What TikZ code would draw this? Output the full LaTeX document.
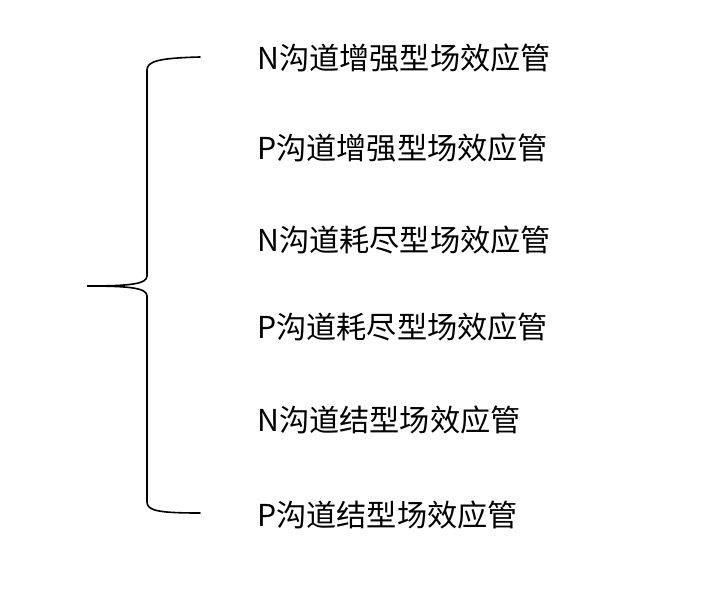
\documentclass[tikz,border=0pt]{standalone}
\usepackage{fontspec}
\newfontfamily\cjk{Noto Sans CJK SC}
\begin{document}
\begin{tikzpicture}[x=1pt,y=-1pt,
  item/.style={anchor=west,inner sep=0pt,font=\cjk\fontsize{30.2}{32}\selectfont},
  bracestyle/.style={line width=1.6pt,line cap=round}]
\useasboundingbox (0,0) rectangle (711,597);
\node[item] (t1) at (257,58) {N沟道增强型场效应管};
\node[item] (t2) at (257,148) {P沟道增强型场效应管};
\node[item] (t3) at (257,240) {N沟道耗尽型场效应管};
\node[item] (t4) at (257,327) {P沟道耗尽型场效应管};
\node[item] (t5) at (257,420) {N沟道结型场效应管};
\node[item] (t6) at (257,515) {P沟道结型场效应管};
\coordinate (top) at (200,57);
\coordinate (bot) at (200,513);
\coordinate (tip) at (87,286);
\draw[bracestyle] (top) .. controls (160,58) and (147,61) .. (147,70)
  -- (147,276) .. controls (147,284) and (130,286) .. (tip)
  .. controls (130,286) and (147,288) .. (147,296)
  -- (147,502) .. controls (147,511) and (160,513) .. (bot);
\end{tikzpicture}
\end{document}
